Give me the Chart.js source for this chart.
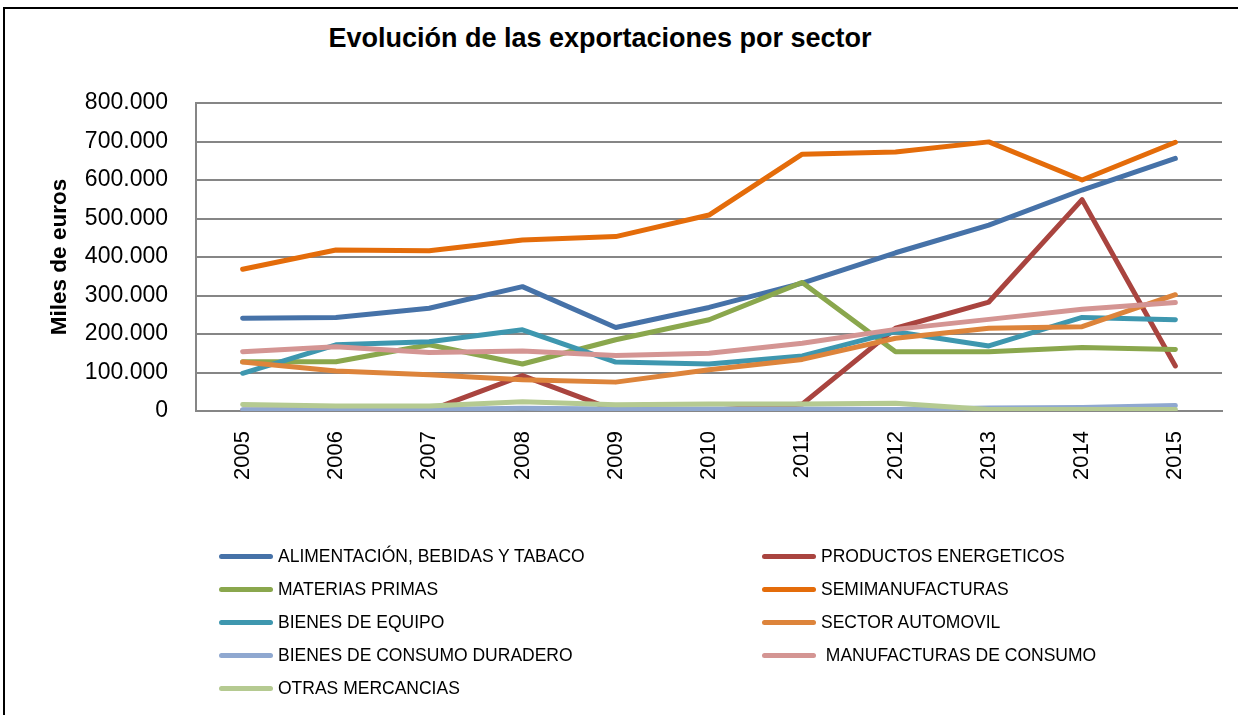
<!DOCTYPE html>
<html>
<head>
<meta charset="utf-8">
<script src="https://cdn.jsdelivr.net/npm/chart.js@4.4.1/dist/chart.umd.min.js"></script>
<style>
	body { margin: 0; background: #fff; font-family: 'Liberation Sans', Arial, sans-serif; }
	#frame { position: absolute; left: 3px; top: 7px; width: 1300px; height: 800px; border: 2px solid #000; }
	#chart-title { position: absolute; left: 0; top: 23px; width: 1200px; text-align: center; font-weight: bold; font-size: 27px; color: #000; }
	#wrap { position: absolute; left: 0; top: 0; width: 1238px; height: 715px; }
	#legend { position: absolute; left: 219px; top: 540px; display: grid; grid-template-columns: 543px 400px; grid-auto-rows: 33px; }
	.legend-item { display: flex; align-items: center; font-size: 17.5px; color: #000; white-space: pre; }
	.legend-key { width: 54px; height: 5px; border-radius: 3px; margin-right: 5px; }
</style>
</head>
<body>
<div id="frame"></div>
<div id="chart-title">Evolución de las exportaciones por sector</div>
<div id="wrap"><canvas id="line-canvas"></canvas></div>
<div id="legend"></div>
<script>
let years = ['2005', '2006', '2007', '2008', '2009', '2010', '2011', '2012', '2013', '2014', '2015'];
let sector_names = [
	'ALIMENTACIÓN, BEBIDAS Y TABACO',
	'PRODUCTOS ENERGETICOS',
	'MATERIAS PRIMAS',
	'SEMIMANUFACTURAS',
	'BIENES DE EQUIPO',
	'SECTOR AUTOMOVIL',
	'BIENES DE CONSUMO DURADERO',
	' MANUFACTURAS DE CONSUMO',
	'OTRAS MERCANCIAS'
];
let alimentacion = [241000, 243000, 267000, 323000, 217000, 269000, 332000, 411000, 483000, 574000, 656000];
let energeticos = [2000, 3000, 1000, 92000, 1000, 1000, 18000, 215000, 283000, 549000, 117000];
let materias_primas = [128000, 128000, 172000, 122000, 185000, 237000, 334000, 154000, 154000, 165000, 160000];
let semimanufacturas = [368000, 418000, 416000, 444000, 453000, 509000, 667000, 673000, 699000, 600000, 698000];
let bienes_equipo = [98000, 172000, 180000, 211000, 127000, 122000, 143000, 206000, 169000, 243000, 237000];
let automovil = [127000, 104000, 94000, 81000, 75000, 107000, 134000, 189000, 215000, 219000, 302000];
let consumo_duradero = [3000, 3000, 4000, 7000, 5000, 5000, 5000, 4000, 8000, 9000, 14000];
let manufacturas_consumo = [154000, 167000, 152000, 156000, 144000, 150000, 176000, 212000, 238000, 264000, 282000];
let otras = [17000, 13000, 13000, 24000, 16000, 18000, 18000, 20000, 4000, 4000, 4000];
let line_colors = ['#4672a8', '#a9443f', '#8aa74d', '#e46c0a', '#3e97af', '#dd843b', '#8fa8d0', '#d49593', '#b5ca91'];

let all_series = [alimentacion, energeticos, materias_primas, semimanufacturas, bienes_equipo, automovil, consumo_duradero, manufacturas_consumo, otras];

let formatted_dataset = [];
for (var i = 0; i < all_series.length; i++) {
	formatted_dataset.push({
		label: sector_names[i],
		data: all_series[i],
		borderColor: line_colors[i],
		backgroundColor: line_colors[i],
		borderWidth: 5,
		borderCapStyle: 'round',
		borderJoinStyle: 'round',
		pointRadius: 0,
		tension: 0,
		order: all_series.length - i // later series on top, like the original
	});
};

//thousands with a dot
let formatThousands = function(v) {
	return String(v).replace(/\B(?=(\d{3})+(?!\d))/g, '.');
};

let context = document.getElementById('line-canvas').getContext('2d');
let line_graph = new Chart(context, {
	type: 'line',
	data: {
		labels: years,
		datasets: formatted_dataset
	},
	options: {
		responsive: true,
		maintainAspectRatio: false,
		animation: false,
		layout: {
			padding: { left: 46, right: 16, top: 103, bottom: 214 }
		},
		plugins: {
			legend: { display: false },
			tooltip: { enabled: false }
		},
		scales: {
			x: {
				offset: true,
				afterFit: function(scale) { scale.height = 90; },
				grid: { display: false, drawTicks: false },
				border: { display: true, color: '#868686', width: 2 },
				ticks: {
					minRotation: 90,
					maxRotation: 90,
					padding: 20,
					color: '#000',
					font: { family: "'Liberation Sans', Arial, sans-serif", size: 22 }
				}
			},
			y: {
				min: 0,
				max: 800000,
				afterFit: function(scale) { scale.width = 150; },
				grid: { color: '#868686', lineWidth: 2, drawTicks: false },
				border: { display: true, color: '#868686', width: 2 },
				ticks: {
					stepSize: 100000,
					padding: 28,
					color: '#000',
					font: { family: "'Liberation Sans', Arial, sans-serif", size: 23 },
					callback: function(val) { return formatThousands(val); }
				},
				title: {
					display: true,
					text: 'Miles de euros',
					color: '#000',
					padding: 0,
					font: { family: "'Liberation Sans', Arial, sans-serif", size: 22.5, weight: 'bold' }
				}
			}
		}
	}
});

//add legend elements
let legend_box = document.getElementById('legend');
for (var i = 0; i < line_graph.data.datasets.length; i++) {
	let ds = line_graph.data.datasets[i];
	legend_box.innerHTML +=
		`<div class='legend-item'><div class='legend-key' style='background-color:${ds.borderColor};'></div>${ds.label}</div>`;
};
</script>
</body>
</html>
